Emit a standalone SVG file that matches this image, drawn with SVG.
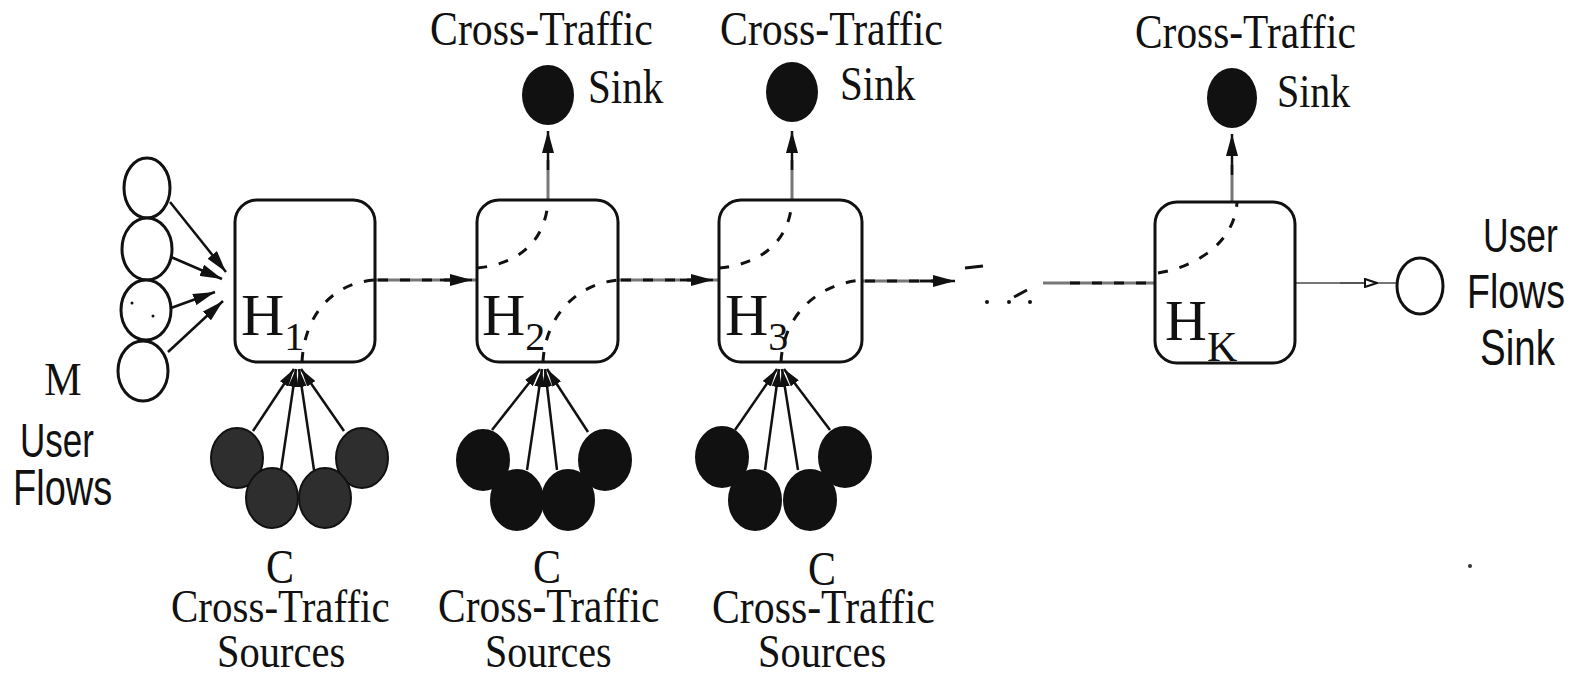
<svg xmlns="http://www.w3.org/2000/svg" width="1580" height="675" viewBox="0 0 1580 675">
<style>
.box{fill:#fff;stroke:#111;stroke-width:3}
.ucirc{fill:#fff;stroke:#111;stroke-width:3}
.src{fill:#111;stroke:#111;stroke-width:2}
.src1{fill:#2e2e2e;stroke:#111;stroke-width:2}
.sink{fill:#111}
.serif{font-family:"Liberation Serif","Times New Roman",serif;fill:#111}
.sans{font-family:"Liberation Sans",Arial,sans-serif;fill:#111}
.dash{fill:none;stroke:#111;stroke-width:3;stroke-dasharray:10 12}
.gline{fill:none;stroke:#777;stroke-width:3}
.bline{fill:none;stroke:#111;stroke-width:2.5}
</style>
<defs>
<marker id="ah" markerUnits="userSpaceOnUse" markerWidth="22" markerHeight="12" refX="22" refY="6" orient="auto"><path d="M0,0 L22,6 L0,12 z" fill="#111"/></marker>
<marker id="ahs" markerUnits="userSpaceOnUse" markerWidth="18" markerHeight="10" refX="18" refY="5" orient="auto"><path d="M0,0 L18,5 L0,10 z" fill="#111"/></marker>
<marker id="aho" markerUnits="userSpaceOnUse" markerWidth="14" markerHeight="10" refX="14" refY="5" orient="auto"><path d="M1,1 L13,5 L1,9 z" fill="#fff" stroke="#111" stroke-width="2"/></marker>
</defs>

<g id="connectors">
  <line class="bline" x1="170" y1="202" x2="226" y2="272" marker-end="url(#ah)"/>
  <line class="bline" x1="171" y1="257" x2="222" y2="279" marker-end="url(#ah)"/>
  <line class="bline" x1="171" y1="308" x2="215" y2="292" marker-end="url(#ah)"/>
  <line class="bline" x1="168" y1="352" x2="223" y2="301" marker-end="url(#ah)"/>
  <line class="bline" x1="253" y1="431" x2="294" y2="369" marker-end="url(#ahs)"/>
  <line class="bline" x1="281" y1="470" x2="296" y2="369" marker-end="url(#ahs)"/>
  <line class="bline" x1="314" y1="470" x2="299" y2="369" marker-end="url(#ahs)"/>
  <line class="bline" x1="344" y1="431" x2="301" y2="369" marker-end="url(#ahs)"/>
  <line class="bline" x1="492" y1="430" x2="540" y2="369" marker-end="url(#ahs)"/>
  <line class="bline" x1="527" y1="470" x2="542" y2="369" marker-end="url(#ahs)"/>
  <line class="bline" x1="557" y1="470" x2="545" y2="369" marker-end="url(#ahs)"/>
  <line class="bline" x1="588" y1="432" x2="547" y2="369" marker-end="url(#ahs)"/>
  <line class="bline" x1="735" y1="430" x2="777" y2="369" marker-end="url(#ahs)"/>
  <line class="bline" x1="765" y1="470" x2="779" y2="369" marker-end="url(#ahs)"/>
  <line class="bline" x1="798" y1="470" x2="782" y2="369" marker-end="url(#ahs)"/>
  <line class="bline" x1="830" y1="430" x2="784" y2="369" marker-end="url(#ahs)"/>
  <line class="gline" x1="375" y1="280" x2="477" y2="280"/>
  <path class="dash" d="M378,280 H455"/>
  <line class="bline" x1="440" y1="280" x2="472" y2="280" marker-end="url(#ah)"/>
  <line class="gline" x1="618" y1="280" x2="718" y2="280"/>
  <path class="dash" d="M621,280 H698"/>
  <line class="bline" x1="680" y1="280" x2="713" y2="280" marker-end="url(#ah)"/>
  <line class="gline" x1="862" y1="281" x2="950" y2="281"/>
  <path class="dash" d="M865,281 H935"/>
  <line class="bline" x1="920" y1="281" x2="955" y2="281" marker-end="url(#ah)"/>
  <path d="M965,268 L983,266" stroke="#111" stroke-width="3"/>
  <path d="M1014,297 L1027,290" stroke="#111" stroke-width="3"/>
  <circle cx="987" cy="302" r="2" fill="#111"/>
  <circle cx="1009" cy="302" r="2" fill="#111"/>
  <circle cx="1030" cy="302" r="2" fill="#111"/>
  <line class="gline" x1="1043" y1="283" x2="1155" y2="283"/>
  <path class="dash" d="M1070,283 H1150"/>
  <line x1="1295" y1="283" x2="1397" y2="283" stroke="#777" stroke-width="2"/>
  <line x1="1340" y1="283" x2="1378" y2="283" stroke="#555" stroke-width="2" marker-end="url(#aho)"/>
  <line class="gline" x1="548" y1="200" x2="548" y2="160"/>
  <line class="bline" x1="548" y1="170" x2="548" y2="131" marker-end="url(#ah)"/>
  <line class="gline" x1="792" y1="200" x2="792" y2="160"/>
  <line class="bline" x1="792" y1="170" x2="792" y2="131" marker-end="url(#ah)"/>
  <line class="gline" x1="1232" y1="202" x2="1232" y2="165"/>
  <line class="bline" x1="1232" y1="175" x2="1232" y2="134" marker-end="url(#ah)"/>
</g>

<g id="node-h1">
  <rect class="box" x="235" y="200" width="140" height="162" rx="22"/>
  <path class="dash" d="M302,362 C304,318 330,283 375,280"/>
  <text class="serif" x="241" y="335" font-size="60">H<tspan font-size="40" dy="15">1</tspan></text>
</g>
<g id="node-h2">
  <rect class="box" x="477" y="200" width="141" height="162" rx="22"/>
  <path class="dash" d="M543,362 C545,318 575,284 618,280"/>
  <path class="dash" d="M477,268 C520,264 546,240 548,200"/>
  <text class="serif" x="482" y="335" font-size="60">H<tspan font-size="40" dy="15">2</tspan></text>
</g>
<g id="node-h3">
  <rect class="box" x="719" y="200" width="143" height="162" rx="22"/>
  <path class="dash" d="M781,362 C783,318 815,284 862,280"/>
  <path class="dash" d="M719,268 C763,264 790,240 792,200"/>
  <text class="serif" x="725" y="335" font-size="60">H<tspan font-size="40" dy="15">3</tspan></text>
</g>
<g id="node-hk">
  <rect class="box" x="1155" y="202" width="140" height="161" rx="22"/>
  <path class="dash" d="M1158,273 C1200,266 1235,240 1237,202"/>
  <text class="serif" x="1165" y="340" font-size="58">H<tspan font-size="42" dy="21">K</tspan></text>
</g>

<g id="user-flows">
  <ellipse class="ucirc" cx="147" cy="188" rx="23" ry="30"/>
  <ellipse class="ucirc" cx="147" cy="249" rx="25" ry="31"/>
  <ellipse class="ucirc" cx="146" cy="310" rx="25" ry="30"/>
  <ellipse class="ucirc" cx="143" cy="371" rx="25" ry="30"/>
  <circle cx="132" cy="303" r="1.5" fill="#111"/>
  <circle cx="153" cy="316" r="1.5" fill="#111"/>
  <text class="serif" transform="translate(63,395) scale(1,1.1)" font-size="42" text-anchor="middle">M</text>
  <text class="sans" transform="translate(20,457) scale(1,1.35)" font-size="35">User</text>
  <text class="sans" transform="translate(13,505) scale(1,1.3)" font-size="38">Flows</text>
</g>

<g id="sources-h1">
  <ellipse class="src1" cx="237" cy="458" rx="26" ry="30"/>
  <ellipse class="src1" cx="362" cy="458" rx="26" ry="30"/>
  <ellipse class="src1" cx="272" cy="498" rx="26" ry="30"/>
  <ellipse class="src1" cx="325" cy="498" rx="26" ry="30"/>
  <text class="serif" transform="translate(280,583) scale(1,1.15)" font-size="42" text-anchor="middle">C</text>
  <text class="serif" transform="translate(171,622) scale(1,1.15)" font-size="41">Cross-Traffic</text>
  <text class="serif" transform="translate(217,667) scale(1,1.15)" font-size="40.5">Sources</text>
</g>
<g id="sources-h2">
  <ellipse class="src" cx="483" cy="460" rx="26" ry="30"/>
  <ellipse class="src" cx="605" cy="460" rx="26" ry="30"/>
  <ellipse class="src" cx="517" cy="500" rx="26" ry="30"/>
  <ellipse class="src" cx="568" cy="500" rx="26" ry="30"/>
  <text class="serif" transform="translate(547,583) scale(1,1.15)" font-size="42" text-anchor="middle">C</text>
  <text class="serif" transform="translate(438,622) scale(1,1.15)" font-size="41.5">Cross-Traffic</text>
  <text class="serif" transform="translate(485,667) scale(1,1.15)" font-size="40">Sources</text>
</g>
<g id="sources-h3">
  <ellipse class="src" cx="722" cy="457" rx="26" ry="30"/>
  <ellipse class="src" cx="845" cy="457" rx="26" ry="30"/>
  <ellipse class="src" cx="755" cy="500" rx="26" ry="30"/>
  <ellipse class="src" cx="810" cy="500" rx="26" ry="30"/>
  <text class="serif" transform="translate(822,585) scale(1,1.15)" font-size="42" text-anchor="middle">C</text>
  <text class="serif" transform="translate(712,623) scale(1,1.15)" font-size="41.8">Cross-Traffic</text>
  <text class="serif" transform="translate(758,667) scale(1,1.15)" font-size="40.5">Sources</text>
</g>

<g id="sink-h2">
  <ellipse class="sink" cx="548" cy="95" rx="26" ry="30"/>
  <text class="serif" transform="translate(430,45) scale(1,1.17)" font-size="41.8">Cross-Traffic</text>
  <text class="serif" transform="translate(588,103) scale(1,1.17)" font-size="41">Sink</text>
</g>
<g id="sink-h3">
  <ellipse class="sink" cx="792" cy="92" rx="26" ry="30"/>
  <text class="serif" transform="translate(720,45) scale(1,1.17)" font-size="41.8">Cross-Traffic</text>
  <text class="serif" transform="translate(840,100) scale(1,1.17)" font-size="41">Sink</text>
</g>
<g id="sink-hk">
  <ellipse class="sink" cx="1232" cy="98" rx="25" ry="30"/>
  <text class="serif" transform="translate(1135,48) scale(1,1.17)" font-size="41.4">Cross-Traffic</text>
  <text class="serif" transform="translate(1277,107) scale(1,1.17)" font-size="40">Sink</text>
</g>

<g id="user-flows-sink">
  <ellipse class="ucirc" cx="1420" cy="286" rx="23" ry="28"/>
  <text class="sans" transform="translate(1483,252) scale(1,1.35)" font-size="35.5">User</text>
  <text class="sans" transform="translate(1467,308) scale(1,1.3)" font-size="37.5">Flows</text>
  <text class="sans" transform="translate(1480,365) scale(1,1.3)" font-size="38.5">Sink</text>
</g>
<circle cx="1470" cy="566" r="2" fill="#333"/>
</svg>
